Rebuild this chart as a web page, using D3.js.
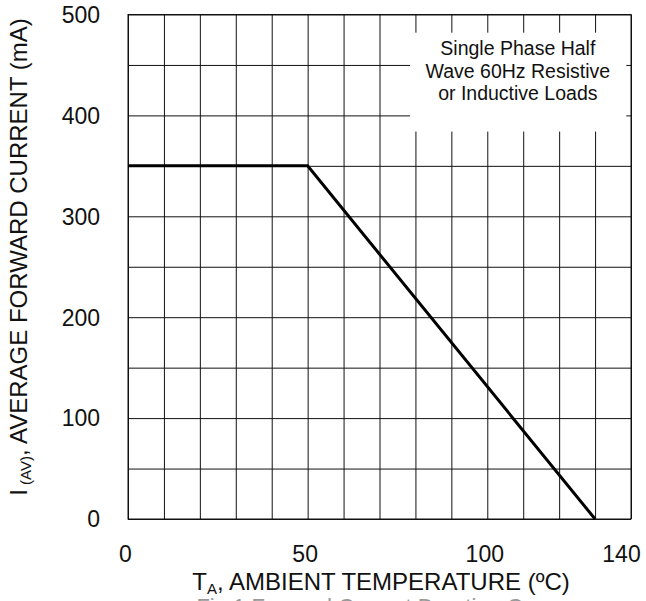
<!DOCTYPE html>
<html>
<head>
<meta charset="utf-8">
<script src="https://cdn.jsdelivr.net/npm/d3@7"></script>
<style>
  body { margin: 0; background: #fff; }
  svg { display: block; font-family: Arial, "Liberation Sans", sans-serif; }
  .grid line { stroke: #111; stroke-width: 1; }
  .grid path { display: none; }
</style>
</head>
<body>
<div id="chart"></div>
<script>
// derating curve points (temperature in C, current in mA)
var temps = [0, 50, 130];
var currents = [350, 350, 0];

var xTicks = [0, 50, 100, 140];
var yTicks = [0, 100, 200, 300, 400, 500];
var xGrid = d3.range(0, 141, 10);
var yGrid = d3.range(0, 501, 50);

var noteLines = ["Single Phase Half", "Wave 60Hz Resistive", "or Inductive Loads"];

// set the dimensions and margins of the graph
var margin = {top: 14.5, right: 15, bottom: 82, left: 128},
    width = 646 - margin.left - margin.right,
    height = 601 - margin.top - margin.bottom;

var x = d3.scaleLinear().domain([0, 140]).range([0, width]);
var y = d3.scaleLinear().domain([0, 500]).range([height, 0]);

var svg = d3.select("#chart").append("svg")
    .attr("width", 646)
    .attr("height", 601)
  .append("g")
    .attr("transform", "translate(" + margin.left + "," + margin.top + ")");

// vertical gridlines
svg.append("g")
    .attr("class", "grid")
    .attr("transform", "translate(0," + height + ")")
    .call(d3.axisBottom(x).tickValues(xGrid).tickSize(-height).tickFormat(""));

// horizontal gridlines
svg.append("g")
    .attr("class", "grid")
    .call(d3.axisLeft(y).tickValues(yGrid).tickSize(-width).tickFormat(""));

// note box covers the grid
svg.append("rect")
    .attr("x", x(78.5))
    .attr("y", y(482))
    .attr("width", x(138.7) - x(78.5))
    .attr("height", y(384) - y(482))
    .attr("fill", "#fff");

var note = svg.append("text")
    .attr("text-anchor", "middle")
    .style("font-size", "19.5px")
    .style("fill", "#111");
noteLines.forEach(function(t, i) {
  note.append("tspan")
      .attr("x", x(108.5))
      .attr("y", y(500) + 40.5 + i * 22.5)
      .text(t);
});

// plot frame
svg.append("rect")
    .attr("width", width)
    .attr("height", height)
    .attr("fill", "none")
    .attr("stroke", "#111")
    .attr("stroke-width", 1);

// the curve
var line = d3.line()
    .x(function(d, i) { return x(temps[i]); })
    .y(function(d) { return y(d); });

svg.append("path")
    .datum(currents)
    .attr("d", line)
    .attr("fill", "none")
    .attr("stroke", "#000")
    .attr("stroke-width", 3);

// tick labels
var xAxis = svg.append("g")
    .attr("transform", "translate(0," + height + ")")
    .call(d3.axisBottom(x).tickValues(xTicks).tickSize(0).tickPadding(0));
xAxis.select(".domain").remove();
xAxis.selectAll("text")
    .attr("y", 43)
    .attr("dy", 0)
    .attr("dx", function(d) { return d === 140 ? -10 : -3; })
    .style("font-size", "23px")
    .style("font-family", "Arial, 'Liberation Sans', sans-serif")
    .style("fill", "#111");

var yAxis = svg.append("g")
    .call(d3.axisLeft(y).tickValues(yTicks).tickSize(0).tickPadding(28));
yAxis.select(".domain").remove();
yAxis.selectAll("text")
    .attr("dy", "0.34em")
    .style("font-size", "23px")
    .style("font-family", "Arial, 'Liberation Sans', sans-serif")
    .style("fill", "#111");

// x axis title
var xt = svg.append("text")
    .attr("x", 253)
    .attr("y", height + 71)
    .attr("text-anchor", "middle")
    .style("font-size", "24px")
    .style("fill", "#111");
xt.append("tspan").text("T");
xt.append("tspan").attr("dy", 4).style("font-size", "15px").text("A");
xt.append("tspan").attr("dy", -4).text(", AMBIENT TEMPERATURE (\u00baC)");

// y axis title
var yt = svg.append("text")
    .attr("transform", "translate(" + (27 - margin.left) + "," + (257 - margin.top) + ") rotate(-90)")
    .attr("text-anchor", "middle")
    .style("font-size", "24px")
    .style("fill", "#111");
yt.append("tspan").text("I");
yt.append("tspan").attr("dy", 4).style("font-size", "15px").text(" (AV)");
yt.append("tspan").attr("dy", -4).text(", AVERAGE FORWARD CURRENT (mA)");

// caption, cut off at the bottom edge as in the source figure
svg.append("text")
    .attr("x", 253)
    .attr("y", height + 95)
    .attr("text-anchor", "middle")
    .style("font-size", "22px")
    .style("fill", "#999")
    .text("Fig.1 Forward Current Derating Curve");
</script>
</body>
</html>
